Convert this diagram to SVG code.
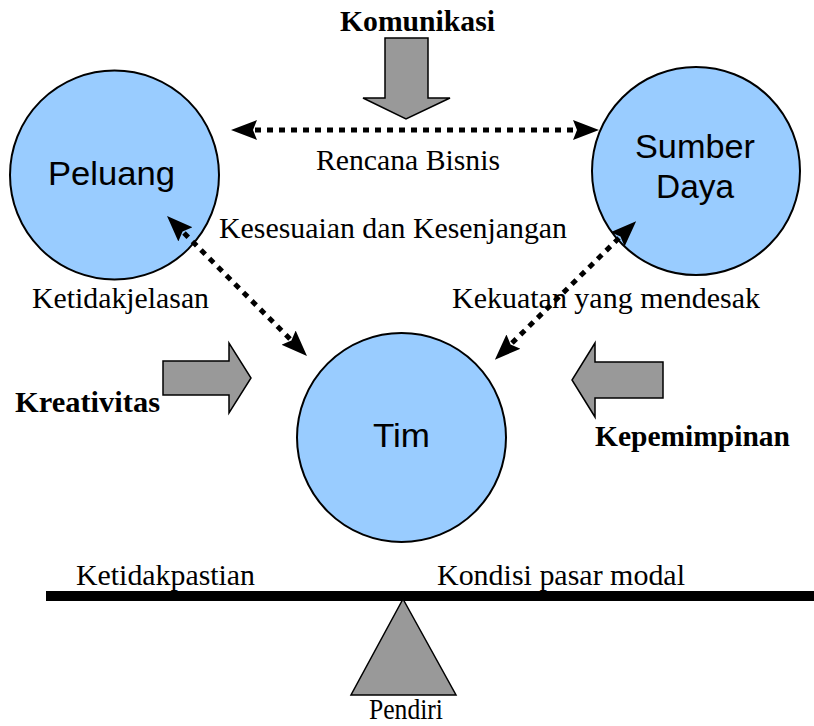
<svg xmlns="http://www.w3.org/2000/svg" width="814" height="726" viewBox="0 0 814 726">
<defs>
<style>
.node{fill:#99CCFF;stroke:#000;stroke-width:2}
.sans{font-family:"Liberation Sans",Arial,sans-serif;font-size:33px;fill:#000}
.serif{font-family:"Liberation Serif","Times New Roman",serif;font-size:30px;fill:#000}
.bold{font-weight:bold}
.block{fill:#999999;stroke:#000;stroke-width:1.5;stroke-linejoin:miter}
.dot{fill:none;stroke:#000;stroke-width:5;stroke-dasharray:6 6}
</style>
<marker id="ah" viewBox="0 0 26 22" refX="2" refY="11" markerWidth="5.2" markerHeight="4.4" markerUnits="strokeWidth" orient="auto-start-reverse">
<path d="M0,1 L26,11 L0,21 L4,11 Z" fill="#000"/>
</marker>
</defs>
<rect width="814" height="726" fill="#fff"/>

<g id="peluang">
<circle class="node" cx="114.5" cy="175" r="104.5"/>
<text class="sans" x="48" y="185" textLength="127" lengthAdjust="spacingAndGlyphs">Peluang</text>
</g>
<g id="sumber-daya">
<circle class="node" cx="696" cy="171" r="104"/>
<text class="sans" x="635" y="158" textLength="120" lengthAdjust="spacingAndGlyphs">Sumber</text>
<text class="sans" x="656" y="198" textLength="78" lengthAdjust="spacingAndGlyphs">Daya</text>
</g>
<g id="tim">
<circle class="node" cx="401.5" cy="437.5" r="104.5"/>
<text class="sans" x="373" y="447" textLength="57" lengthAdjust="spacingAndGlyphs">Tim</text>
</g>

<g id="connectors">
<line class="dot" x1="255" y1="130" x2="575" y2="130" marker-start="url(#ah)" marker-end="url(#ah)"/>
<line class="dot" x1="184" y1="233" x2="290" y2="339" marker-start="url(#ah)" marker-end="url(#ah)"/>
<line class="dot" x1="619" y1="238" x2="512" y2="343" marker-start="url(#ah)" marker-end="url(#ah)"/>
</g>

<g id="komunikasi">
<polygon class="block" points="385,38 428,38 428,98 450,98 406,119 363,98 385,98"/>
<text class="serif bold" x="340" y="31" textLength="155" lengthAdjust="spacingAndGlyphs">Komunikasi</text>
</g>
<g id="kreativitas">
<polygon class="block" points="163,361 229,361 229,343 251,378 229,413 229,395 163,395"/>
<text class="serif bold" x="15" y="412" textLength="145" lengthAdjust="spacingAndGlyphs">Kreativitas</text>
</g>
<g id="kepemimpinan">
<polygon class="block" points="663,362 595,362 595,343 572,380 595,417 595,398 663,398"/>
<text class="serif bold" x="595" y="446" textLength="195" lengthAdjust="spacingAndGlyphs">Kepemimpinan</text>
</g>

<g id="labels">
<text class="serif" x="316" y="170" textLength="184" lengthAdjust="spacingAndGlyphs">Rencana Bisnis</text>
<text class="serif" x="219" y="238" textLength="348" lengthAdjust="spacingAndGlyphs">Kesesuaian dan Kesenjangan</text>
<text class="serif" x="32" y="308" textLength="177" lengthAdjust="spacingAndGlyphs">Ketidakjelasan</text>
<text class="serif" x="452" y="308" textLength="308" lengthAdjust="spacingAndGlyphs">Kekuatan yang mendesak</text>
<text class="serif" x="76" y="585" textLength="179" lengthAdjust="spacingAndGlyphs">Ketidakpastian</text>
<text class="serif" x="437" y="585" textLength="248" lengthAdjust="spacingAndGlyphs">Kondisi pasar modal</text>
</g>

<g id="pendiri">
<rect x="46" y="591" width="768" height="10" fill="#000"/>
<polygon class="block" points="403,599 456,695 351,695"/>
<text class="serif" x="369" y="719" textLength="74" lengthAdjust="spacingAndGlyphs">Pendiri</text>
</g>
</svg>
